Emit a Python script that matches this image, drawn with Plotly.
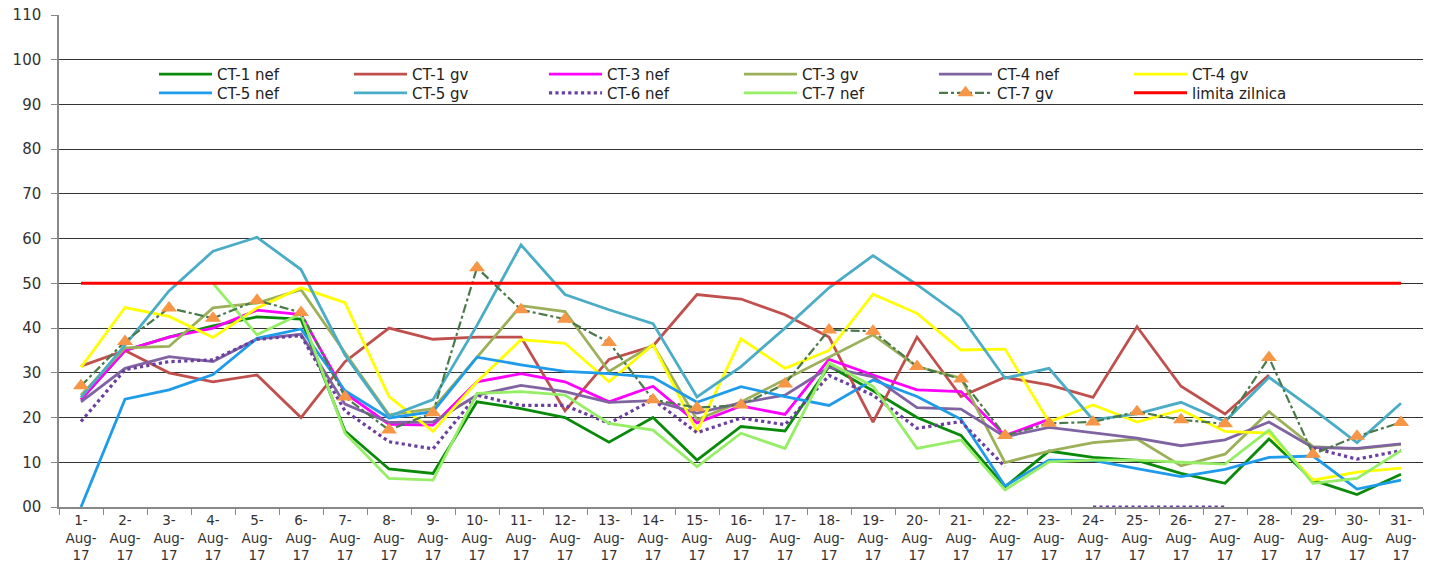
import plotly.graph_objects as go

# --- Data (August 2017)
days = [f"{d}-Aug-17" for d in range(1, 32)]
day_labels = [f"{d}-<br>Aug-<br>17" for d in range(1, 32)]

ct1_nef = [24, 35, 38, 40.5, 42.5, 42, 17, 8.5, 7.5, 23.5, 22, 20, 14.5, 20, 10.5, 18, 17, 31.5, 26, 20,
           16, 4.5, 12.5, 11.1, 10.4, 7.5, 5.3, 15.2, 6, 2.8, 7.3]
ct1_gv = [31.5, 35, 30, 28, 29.5, 20, 32.5, 40, 37.5, 38, 38, 21.5, 33, 36, 47.5, 46.5, 43, 38, 19, 38,
          24.7, 29, 27.3, 24.5, 40.3, 27, 20.8, 29.5, None, None, None]
ct3_nef = [24, 35, 38, 40, 44, 43, 25.5, 18.5, 18.3, 28, 29.8, 28, 23.5, 27, 18.8, 22.6, 20.7, 33, 29.5, 26.2,
           25.8, 16, 19.6, None, None, None, None, None, None, None, None]
ct3_gv = [25, 35.6, 35.9, 44.5, 45.6, 48.6, 34.5, 20.6, 22, 33.6, 45, 43.7, 30.3, 36.3, 19.5, 23.5, 28.5, 33.5, 38.5, 31.4,
          28.8, 9.9, 12.5, 14.4, 15.2, 9.2, 11.8, 21.3, 13.5, 13, 14]
ct4_nef = [23.5, 31, 33.6, 32.5, 37.6, 38.6, 23, 18.9, 19, 25, 27.2, 25.8, 23.4, 23.8, 21, 23.3, 25, 31.2, 29.1, 22.2,
           21.9, 15.7, 17.8, 16.6, 15.4, 13.7, 15, 19, 13.3, 13.1, 14.1]
ct4_gv = [31.2, 44.6, 42.6, 37.9, 44.5, 49, 45.7, 24.7, 16.9, 28, 37.4, 36.6, 28, 36.3, 16.9, 37.6, 31, 35, 47.6, 43.3,
          35.1, 35.3, 19, 22.8, 19, 21.7, 16.9, 16.5, 6, 7.8, 8.7]
ct5_nef = [0, 24.1, 26.2, 29.6, 37.7, 39.8, 26, 19.9, 21.3, 33.5, 31.8, 30.3, 29.8, 29, 23.4, 26.9, 24.7, 22.7, 28.4, 24.7,
           19.6, 4.7, 10.5, 10.4, 8.6, 6.8, 8.4, 11.1, 11.4, 4, 6]
ct5_gv = [24.5, 36.2, 48.3, 57.2, 60.3, 53.1, 34, 20.3, 24, 40.6, 58.6, 47.5, 44.1, 41, 24.6, 31.4, 40, 49, 56.2, 49.7,
          42.6, 28.8, 31, 19.5, 20.8, 23.4, 19.1, 29, 21.9, 14.4, 23.2]
ct6_nef = [19.1, 30.7, 32.5, 32.9, 37.5, 38.3, 21.5, 14.6, 13, 25, 22.7, 22.7, 18.7, 24, 16.6, 19.9, 18.4, 29.4, 25, 17.6,
           19.1, 9, None, 0, 0, 0, 0, None, 13.2, 10.7, 12.6]
ct7_nef = [None, None, None, 50, 38.5, 43.2, 16.5, 6.4, 6, 25.4, 25.8, 25, 18.7, 17.2, 9, 16.5, 13.1, 32.2, 27, 13.1,
           15, 3.8, 10.1, 10.5, 10.5, 10, 9.6, 17.2, 5.3, 6.4, 12.6]
ct7_gv = [27.1, 37, 44.5, 42.2, 46.2, 43.5, 24.6, 17.2, 21.1, 53.5, 44.1, 42, 36.8, 24, 22.2, 22.8, 27.5, 39.6, 39.3, 31.4,
          28.6, 16, 18.7, 19, 21.3, 19.5, 18.6, 33.4, 11.8, 15.8, 18.9]
limita = [50, 50, 50, 50, 50, 50, 50, 50, 50, 50, 50, 50, 50, 50, 50, 50, 50, 50, 50, 50,
          50, 50, 50, 50, 50, 50, 50, 50, 50, 50, 50]

y_ticks = [0, 10, 20, 30, 40, 50, 60, 70, 80, 90, 100, 110]
y_ticktext = ["00", "10", "20", "30", "40", "50", "60", "70", "80", "90", "100", "110"]

# --- Series styles (name, values, color, dash, legend row)
series = [
    ("CT-1 nef", ct1_nef, "#0A8A0A", "solid", "legend"),
    ("CT-1 gv", ct1_gv, "#C0504D", "solid", "legend"),
    ("CT-3 nef", ct3_nef, "#FF00FF", "solid", "legend"),
    ("CT-3 gv", ct3_gv, "#9BB059", "solid", "legend"),
    ("CT-4 nef", ct4_nef, "#8064A2", "solid", "legend"),
    ("CT-4 gv", ct4_gv, "#FFFF00", "solid", "legend"),
    ("CT-5 nef", ct5_nef, "#1E9BEA", "solid", "legend2"),
    ("CT-5 gv", ct5_gv, "#4BACC6", "solid", "legend2"),
    ("CT-6 nef", ct6_nef, "#6B3FA0", "dot", "legend2"),
    ("CT-7 nef", ct7_nef, "#95EE66", "solid", "legend2"),
]

fig = go.Figure()
for name, vals, color, dash, leg in series:
    fig.add_trace(go.Scatter(x=days, y=vals, name=name, mode="lines", legend=leg,
                             line=dict(color=color, width=2.8 if dash == "solid" else 3.2, dash=dash),
                             connectgaps=False))

fig.add_trace(go.Scatter(x=days, y=ct7_gv, name="CT-7 gv", mode="lines+markers", legend="legend2",
                         line=dict(color="#4A7A4A", width=2.2, dash="dashdot"),
                         marker=dict(symbol="triangle-up", size=14, color="#F79646")))
fig.add_trace(go.Scatter(x=days, y=limita, name="limita zilnica", mode="lines", legend="legend2",
                         line=dict(color="#FF0000", width=3)))

leg_style = dict(orientation="h", xref="container", yref="container",
                 x=0.1076, xanchor="left", yanchor="top",
                 bgcolor="rgba(255,255,255,0)", entrywidth=127, entrywidthmode="pixels",
                 itemwidth=53, tracegroupgap=0,
                 font=dict(size=15, color="#222222"))

fig.update_layout(
    width=1431, height=567,
    margin=dict(l=59, r=8, t=15, b=60, autoexpand=False),
    paper_bgcolor="white", plot_bgcolor="white",
    font=dict(family="DejaVu Sans, Liberation Sans, sans-serif", size=14, color="#333333"),
    showlegend=True,
    legend=dict(leg_style, y=0.898),
    legend2=dict(leg_style, y=0.865),
)
fig.update_xaxes(type="category", tickvals=days, ticktext=day_labels,
                 showgrid=False, showline=True, linecolor="#888888", linewidth=1.5,
                 ticks="outside", tickson="boundaries", ticklen=6, tickcolor="#888888",
                 tickfont=dict(size=13.5, color="#333333"), tickangle=0,
                 range=[-0.5, 30.5])
fig.update_yaxes(range=[0, 110], tickvals=y_ticks, ticktext=y_ticktext,
                 showgrid=True, gridcolor="#333333", gridwidth=1,
                 showline=True, linecolor="#888888", linewidth=1.5,
                 ticks="outside", ticklen=6, tickcolor="#888888", ticklabelstandoff=7,
                 zeroline=False, tickfont=dict(size=15, color="#333333"))

# page body has a default margin; drop it so the figure fills the window exactly
fig.write_html("out.html", config={"displayModeBar": False},
               post_script="document.body.style.margin='0';")
